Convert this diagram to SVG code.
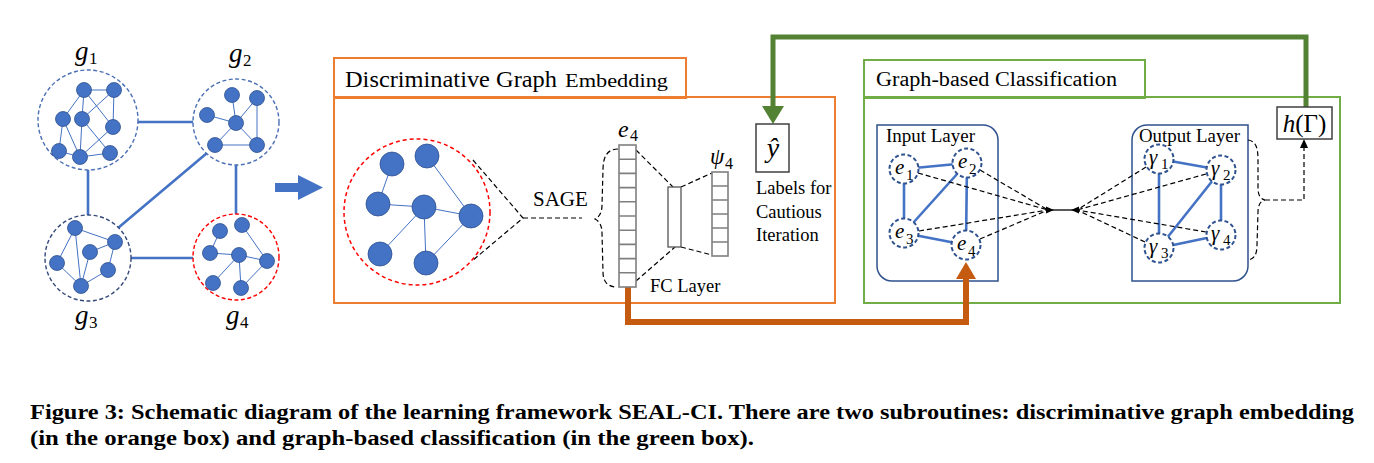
<svg xmlns="http://www.w3.org/2000/svg" width="1374" height="463" viewBox="0 0 1374 463">
<style>
.n{fill:#4472C4;stroke:#2F528F;stroke-width:0.8}
.ie{stroke:#4472C4;stroke-width:1;fill:none}
.ge{stroke:#4472C4;stroke-width:2.6;fill:none}
.dash{stroke:#000;stroke-width:1.2;stroke-dasharray:5 3;fill:none}
.t{font-family:"Liberation Serif","Times New Roman",serif;fill:#000}
.m{font-family:"Liberation Serif","Times New Roman",serif;font-style:italic;fill:#000}
.cell{fill:#fff;stroke:#7F7F7F;stroke-width:1.6}
.en{fill:#fff;stroke:#2F528F;stroke-width:2;stroke-dasharray:4 2.5}
.box{fill:none;stroke-width:2}
</style>
<rect width="1374" height="463" fill="#fff"/>

<g id="orange-box">
<rect class="box" x="334" y="58" width="352" height="40" stroke="#ED7D31"/>
<rect class="box" x="334" y="97" width="501" height="206" stroke="#ED7D31"/>
<text class="t" x="345" y="87" font-size="22.5" textLength="212" lengthAdjust="spacingAndGlyphs">Discriminative Graph</text>
<text class="t" x="565" y="87" font-size="19.5" textLength="103" lengthAdjust="spacingAndGlyphs">Embedding</text>
</g>
<g id="green-box">
<rect class="box" x="864" y="60" width="281" height="38" stroke="#70AD47"/>
<rect class="box" x="864" y="97" width="476" height="206" stroke="#70AD47"/>
<text class="t" x="876" y="86" font-size="20" textLength="241" lengthAdjust="spacingAndGlyphs">Graph-based Classification</text>
</g>
<g id="input-layer">
<path d="M877 125 H983 A15 15 0 0 1 998 140 V281 H892 A15 15 0 0 1 877 266 Z" fill="none" stroke="#2F528F" stroke-width="1.5"/>
<text class="t" x="886" y="142" font-size="18.5" textLength="89" lengthAdjust="spacingAndGlyphs">Input Layer</text>
</g>
<g id="output-layer">
<path d="M1147 125 H1248 V266 A15 15 0 0 1 1233 281 H1132 V140 A15 15 0 0 1 1147 125 Z" fill="none" stroke="#2F528F" stroke-width="1.5"/>
<text class="t" x="1139" y="142" font-size="18.5" textLength="101" lengthAdjust="spacingAndGlyphs">Output Layer</text>
</g>

<g id="connectors">
<line class="ge" x1="137" y1="122" x2="193" y2="122"/>
<line class="ge" x1="88" y1="170" x2="88" y2="215"/>
<line class="ge" x1="207" y1="153" x2="118" y2="228"/>
<line class="ge" x1="236" y1="165" x2="236" y2="214"/>
<line class="ge" x1="131" y1="258" x2="193" y2="258"/>
<polygon points="275,183 298,183 298,175 323,187.5 298,200 298,192 275,192" fill="#4472C4"/>
<path class="dash" d="M473 160 L523 218 L472 261"/>
<line class="dash" x1="523" y1="218" x2="582" y2="218"/>
<path class="dash" d="M618 149 C607 149 603 157 603 170 L602 205 C602 213 599 217 595 219 C599 221 602 225 602 233 L603 272 C603 282 608 287 617 287"/>
<line class="dash" x1="636" y1="150" x2="673" y2="187"/>
<line class="dash" x1="636" y1="281" x2="675" y2="247"/>
<line class="dash" x1="681" y1="187" x2="712" y2="173"/>
<line class="dash" x1="681" y1="247" x2="712" y2="255"/>
<line class="ge" x1="904" y1="169" x2="967" y2="163"/>
<line class="ge" x1="904" y1="169" x2="904" y2="233"/>
<line class="ge" x1="967" y1="163" x2="904" y2="233"/>
<line class="ge" x1="967" y1="163" x2="966" y2="245"/>
<line class="ge" x1="904" y1="233" x2="966" y2="245"/>
<line class="ge" x1="1159" y1="159" x2="1221" y2="170"/>
<line class="ge" x1="1159" y1="159" x2="1159" y2="248"/>
<line class="ge" x1="1221" y1="170" x2="1159" y2="248"/>
<line class="ge" x1="1221" y1="170" x2="1221" y2="235"/>
<line class="ge" x1="1159" y1="248" x2="1221" y2="235"/>
<line class="dash" x1="918" y1="173" x2="1048" y2="210"/>
<line class="dash" x1="980" y1="170" x2="1048" y2="210"/>
<line class="dash" x1="919" y1="231" x2="1048" y2="210"/>
<line class="dash" x1="980" y1="239" x2="1048" y2="210"/>
<line class="dash" x1="1146" y1="167" x2="1077" y2="210"/>
<line class="dash" x1="1206" y1="174" x2="1077" y2="210"/>
<line class="dash" x1="1145" y1="242" x2="1077" y2="210"/>
<line class="dash" x1="1206" y1="232" x2="1077" y2="210"/>
<line x1="1050" y1="210" x2="1075" y2="210" stroke="#000" stroke-width="1.3"/>
<polygon points="1046,206.5 1054,210 1046,213.5" fill="#000"/>
<polygon points="1079,206.5 1071,210 1079,213.5" fill="#000"/>
<path class="dash" d="M1248 140 C1256 141 1258 148 1258 160 L1258 188 C1258 196 1261 199 1265 200 C1261 201 1258 204 1258 212 L1257 245 C1257 255 1254 259 1248 260"/>
<path class="dash" d="M1265 200 H1304 V147"/>
<polygon points="1300,148 1308,148 1304,139" fill="#000"/>
<path d="M1306 107 V37 H773 V108" fill="none" stroke="#548235" stroke-width="5"/>
<polygon points="762,106 784,106 773,124" fill="#548235"/>
<path d="M628 287 V322 H966 V277" fill="none" stroke="#C55A11" stroke-width="6"/>
<polygon points="956,279 976,279 966,262" fill="#C55A11"/>
</g>

<g id="g1">
<circle cx="88" cy="120" r="50" fill="#fff" stroke="#4A6FB5" stroke-width="1.4" stroke-dasharray="4 2.5"/>
<path class="ie" d="M84 90 L114 90 M84 90 L63 119 M84 90 L82 119 M84 90 L113 127 M114 90 L82 119 M114 90 L113 127 M63 119 L59 151 M63 119 L80 157 M82 119 L80 157 M82 119 L110 153 M113 127 L80 157 M59 151 L80 157 M80 157 L110 153"/>
<circle class="n" cx="84" cy="90" r="7.5"/><circle class="n" cx="114" cy="90" r="7.5"/>
<circle class="n" cx="63" cy="119" r="7.5"/><circle class="n" cx="82" cy="119" r="7.5"/>
<circle class="n" cx="113" cy="127" r="7.5"/><circle class="n" cx="59" cy="151" r="7.5"/>
<circle class="n" cx="80" cy="157" r="7.5"/><circle class="n" cx="110" cy="153" r="7.5"/>
<text class="m" x="75" y="60" font-size="27">g</text><text class="t" x="89" y="64" font-size="17">1</text>
</g>
<g id="g2">
<circle cx="236" cy="122" r="43" fill="#fff" stroke="#4A6FB5" stroke-width="1.4" stroke-dasharray="4 2.5"/>
<path class="ie" d="M232 95 L236 123 M257 98 L236 123 M257 98 L257 145 M207 115 L236 123 M236 123 L215 145 M236 123 L257 145 M215 145 L257 145"/>
<circle class="n" cx="232" cy="95" r="7.5"/><circle class="n" cx="257" cy="98" r="7.5"/>
<circle class="n" cx="207" cy="115" r="7.5"/><circle class="n" cx="236" cy="123" r="7.5"/>
<circle class="n" cx="215" cy="145" r="7.5"/><circle class="n" cx="257" cy="145" r="7.5"/>
<text class="m" x="229" y="62" font-size="27">g</text><text class="t" x="243" y="66" font-size="17">2</text>
</g>
<g id="g3">
<circle cx="88" cy="258" r="43" fill="#fff" stroke="#34497A" stroke-width="1.4" stroke-dasharray="4 2.5"/>
<path class="ie" d="M75 228 L115 242 M75 228 L57 263 M75 228 L81 286 M90 252 L115 242 M90 252 L81 286 M115 242 L108 270 M108 270 L81 286 M57 263 L81 286"/>
<circle class="n" cx="75" cy="228" r="7.5"/><circle class="n" cx="115" cy="242" r="7.5"/>
<circle class="n" cx="90" cy="252" r="7.5"/><circle class="n" cx="57" cy="263" r="7.5"/>
<circle class="n" cx="108" cy="270" r="7.5"/><circle class="n" cx="81" cy="286" r="7.5"/>
<text class="m" x="75" y="324" font-size="27">g</text><text class="t" x="89" y="328" font-size="17">3</text>
</g>
<g id="g4">
<circle cx="236" cy="257" r="43" fill="#fff" stroke="#FF0000" stroke-width="1.4" stroke-dasharray="4 2.5"/>
<path class="ie" d="M220 231 L210 253 M242 225 L267 261 M210 253 L239 255 M239 255 L267 261 M239 255 L213 283 M239 255 L241 288 M267 261 L241 288"/>
<circle class="n" cx="220" cy="231" r="7.5"/><circle class="n" cx="242" cy="225" r="7.5"/>
<circle class="n" cx="210" cy="253" r="7.5"/><circle class="n" cx="239" cy="255" r="7.5"/>
<circle class="n" cx="267" cy="261" r="7.5"/><circle class="n" cx="213" cy="283" r="7.5"/>
<circle class="n" cx="241" cy="288" r="7.5"/>
<text class="m" x="226" y="324" font-size="27">g</text><text class="t" x="240" y="328" font-size="17">4</text>
</g>
<g id="graph-g4-zoom">
<circle cx="417" cy="212" r="73" fill="#fff" stroke="#FF0000" stroke-width="1.5" stroke-dasharray="4 3"/>
<path class="ie" d="M392 164 L378 204 M427 156 L471 216 M378 204 L424 207 M424 207 L471 216 M424 207 L380 254 M424 207 L426 263 M471 216 L426 263"/>
<circle class="n" cx="392" cy="164" r="12"/><circle class="n" cx="427" cy="156" r="12"/>
<circle class="n" cx="378" cy="204" r="12"/><circle class="n" cx="424" cy="207" r="12"/>
<circle class="n" cx="471" cy="216" r="12"/><circle class="n" cx="380" cy="254" r="12"/>
<circle class="n" cx="426" cy="263" r="12"/>
</g>
<g id="sage">
<text class="t" x="533" y="206" font-size="21">SAGE</text>
</g>
<g id="e4-vector">
<rect class="cell" x="619" y="145" width="17" height="142"/>
<path d="M619 159.2 H636 M619 173.4 H636 M619 187.6 H636 M619 201.8 H636 M619 216 H636 M619 230.2 H636 M619 244.4 H636 M619 258.6 H636 M619 272.8 H636" stroke="#7F7F7F" stroke-width="1.6"/>
<text class="m" x="618" y="137" font-size="24">e</text><text class="t" x="630" y="141" font-size="16">4</text>
</g>
<g id="fc-layer">
<rect x="668" y="187" width="13" height="60" fill="#fff" stroke="#555" stroke-width="1.3"/>
<text class="t" x="650" y="292" font-size="18.5">FC Layer</text>
</g>
<g id="psi4-vector">
<rect class="cell" x="712" y="172" width="16" height="84"/>
<path d="M712 186 H728 M712 200 H728 M712 214 H728 M712 228 H728 M712 242 H728" stroke="#7F7F7F" stroke-width="1.6"/>
<text class="m" x="710" y="164" font-size="23">ψ</text><text class="t" x="725" y="169" font-size="16">4</text>
</g>
<g id="y-hat">
<rect x="756" y="124" width="33" height="48" fill="#fff" stroke="#404040" stroke-width="1.5"/>
<text class="m" x="773" y="157" font-size="28" text-anchor="middle">ŷ</text>
<text class="t" x="756" y="194" font-size="18.5">Labels for</text>
<text class="t" x="756" y="218" font-size="18.5">Cautious</text>
<text class="t" x="756" y="241" font-size="18.5">Iteration</text>
</g>
<g id="e1"><circle class="en" cx="904" cy="169" r="14.5"/><text class="m" x="895" y="174" font-size="21">e</text><text class="t" x="906" y="180" font-size="15">1</text></g>
<g id="e2"><circle class="en" cx="967" cy="163" r="14.5"/><text class="m" x="958" y="168" font-size="21">e</text><text class="t" x="969" y="174" font-size="15">2</text></g>
<g id="e3"><circle class="en" cx="904" cy="233" r="14.5"/><text class="m" x="895" y="238" font-size="21">e</text><text class="t" x="906" y="244" font-size="15">3</text></g>
<g id="e4"><circle class="en" cx="966" cy="245" r="14.5" stroke="#FF0000"/><text class="m" x="957" y="250" font-size="21">e</text><text class="t" x="968" y="256" font-size="15">4</text></g>
<g id="gamma1"><circle class="en" cx="1159" cy="159" r="14.5"/><text class="m" x="1149" y="164" font-size="21">γ</text><text class="t" x="1161" y="169" font-size="15">1</text></g>
<g id="gamma2"><circle class="en" cx="1221" cy="170" r="14.5"/><text class="m" x="1211" y="175" font-size="21">γ</text><text class="t" x="1223" y="180" font-size="15">2</text></g>
<g id="gamma3"><circle class="en" cx="1159" cy="248" r="14.5"/><text class="m" x="1149" y="253" font-size="21">γ</text><text class="t" x="1161" y="258" font-size="15">3</text></g>
<g id="gamma4"><circle class="en" cx="1221" cy="235" r="14.5"/><text class="m" x="1211" y="240" font-size="21">γ</text><text class="t" x="1223" y="245" font-size="15">4</text></g>
<g id="h-gamma">
<rect x="1277" y="107" width="55" height="32" fill="#fff" stroke="#404040" stroke-width="1.5"/>
<text x="1304.5" y="132" font-size="25" text-anchor="middle" class="t"><tspan font-style="italic">h</tspan>(Γ)</text>
</g>
<text class="t" x="30" y="419" font-size="20" font-weight="bold" textLength="1324" lengthAdjust="spacingAndGlyphs">Figure 3: Schematic diagram of the learning framework SEAL-CI. There are two subroutines: discriminative graph embedding</text>
<text class="t" x="30" y="445" font-size="20" font-weight="bold" textLength="724" lengthAdjust="spacingAndGlyphs">(in the orange box) and graph-based classification (in the green box).</text>
</svg>
